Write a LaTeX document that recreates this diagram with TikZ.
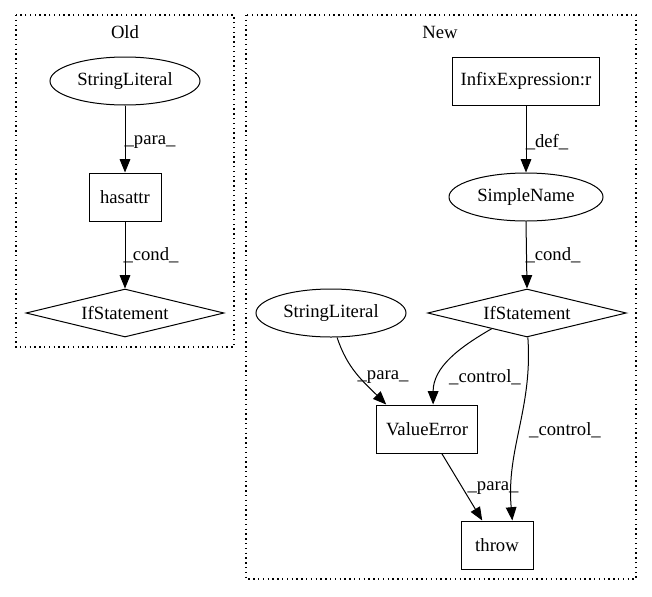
\documentclass[tikz,border=0pt]{standalone}
\usepackage{fontspec}
\setmainfont{Liberation Serif}
\usetikzlibrary{shapes.geometric,arrows.meta}
\begin{document}
\begin{tikzpicture}[x=0.75pt,y=-0.75pt,
  every node/.style={font=\fontsize{14pt}{16pt}\selectfont},
  box/.style={draw,rectangle,minimum height=36pt,inner sep=0pt,line width=0.75pt},
  ell/.style={draw,ellipse,minimum height=36pt,inner sep=0pt,line width=0.75pt},
  dia/.style={draw,diamond,shape aspect=4,minimum height=36pt,inner sep=0pt,line width=0.75pt},
  conn/.style={draw,line width=0.75pt,-{Triangle[length=10pt,width=8pt]}},
  lbl/.style={inner sep=0pt},
  cluster/.style={draw,dash pattern=on 1pt off 2.6pt,line width=0.8pt}]
\useasboundingbox (0,0) rectangle (652,596);

% clusters
\draw[cluster] (16,15) rectangle (234,347);
\draw[cluster] (246,15) rectangle (636,579);
\node[lbl] (oldlbl) at (125,32) {Old};
\node[lbl] (newlbl) at (440,32) {New};

% Old
\node[ell,minimum width=112.5pt] (sl1) at (125,81) {StringLiteral};
\node[box,minimum width=54pt] (has) at (125,197) {hasattr};
\node[dia,minimum width=148.5pt] (if1) at (125,313) {IfStatement};

% New
\node[box,minimum width=110.25pt] (infix) at (526,81) {InfixExpression:r};
\node[ell,minimum width=115.5pt] (sn) at (526,197) {SimpleName};
\node[dia,minimum width=149pt] (if2) at (527,313) {IfStatement};
\node[ell,minimum width=112.5pt] (sl2) at (331,313) {StringLiteral};
\node[box,minimum width=75.75pt] (ve) at (427,429) {ValueError};
\node[box,minimum width=54pt] (thr) at (497,545) {throw};

% edges Old
\draw[conn] (sl1) -- (has) node[lbl] at (150,142) {\_para\_};
\draw[conn] (has) -- (if1) node[lbl] at (151,255) {\_cond\_};

% edges New
\draw[conn] (infix) -- (sn) node[lbl] at (547,142) {\_def\_};
\draw[conn] (sn.south) -- (if2.north) node[lbl] at (553,255) {\_cond\_};
\draw[conn] (sl2.-76) to[out=-72,in=135] (ve.149);
\node[lbl] (lp1) at (383,377) {\_para\_};
\draw[conn] (if2.204) to[out=210,in=90] (ve.76);
\node[lbl] (lc1) at (485,377) {\_control\_};
\draw[conn] (if2.-88) to[out=-86,in=95] (thr.58);
\node[lbl] (lc2) at (565,430) {\_control\_};
\draw[conn] (ve) -- (thr);
\node[lbl] (lp2) at (493,488) {\_para\_};
\end{tikzpicture}
\end{document}
